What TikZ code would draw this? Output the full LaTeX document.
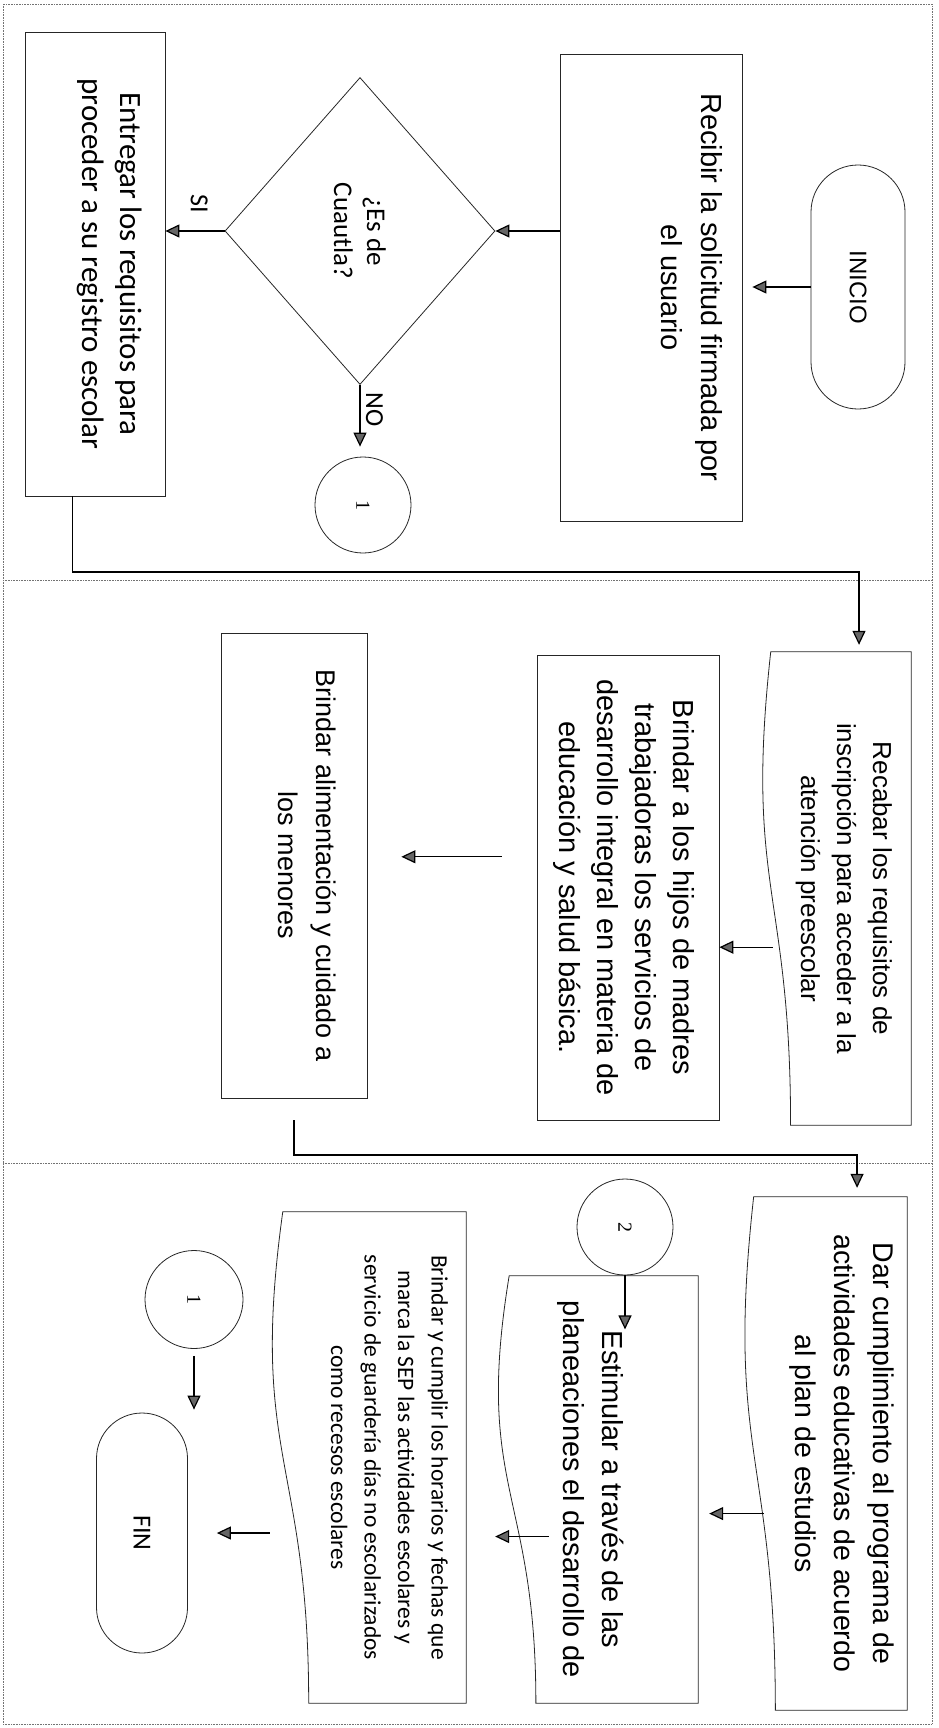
\documentclass[tikz,border=0pt]{standalone}
\usepackage{fontspec}
\setmainfont{Liberation Sans}
\newfontfamily\calibri{Carlito}
\newfontfamily\serifnum{Liberation Serif}
\usetikzlibrary{shapes.geometric,arrows.meta,calc}

\newcommand{\flowtext}[4]{\parbox[c][#2][t]{#1}{\centering\vspace*{#3}#4\par}}
\newcommand{\docoutline}[1]{%
  \draw[outline] (#1.north west) -- (#1.north east)
    -- ($(#1.north east)!0.802!(#1.south east)$)
    .. controls ($(#1.north)!0.802!(#1.south)$) and ($(#1.north)!1.107!(#1.south)$)
    .. ($(#1.north west)!0.934!(#1.south west)$) -- cycle;}

\tikzset{
  outline/.style={draw=black!85, line width=0.8pt},
  flowbox/.style={outline, rectangle, inner sep=0pt, rotate=-90},
  docbox/.style={rectangle, inner sep=0pt, rotate=-90},
  stadium/.style={outline, rectangle, inner sep=0pt, rotate=-90, align=center},
  decision/.style={outline, diamond, inner sep=0pt, rotate=-90, align=center},
  linkcircle/.style={outline, circle, inner sep=0pt, minimum size=96pt, rotate=-90, font=\serifnum\fontsize{20}{24}\selectfont},
  arr/.style={draw=black, line width=1.2pt, -{Triangle[length=14pt,width=13pt,fill=black!60]}},
  lane/.style={draw=black!55, line width=0.6pt, densely dotted},
  lbl/.style={rotate=-90, font=\calibri\fontsize{26}{30}\selectfont}
}

\begin{document}
\begin{tikzpicture}[x=1pt,y=1pt]
  \useasboundingbox (0,0) rectangle (938,-1728);
  \draw[lane] (3,-4) rectangle (932,-1724);
  \draw[lane] (3,-580) -- (932,-580);
  \draw[lane] (3,-1163) -- (932,-1163);

  % primera columna
  \node[stadium, rounded corners=47pt, minimum width=244pt, minimum height=94pt, font=\fontsize{24}{28}\selectfont] (inicio) at (858,-287) {INICIO};
  \node[flowbox, font=\fontsize{29}{40}\selectfont] (recibir) at (651,-287.5) {\flowtext{467pt}{182pt}{19pt}{Recibir la solicitud firmada por\\el usuario}};
  \node[decision, minimum width=307pt, minimum height=270pt, font=\calibri\fontsize{27}{33}\selectfont] (cuautla) at (360,-231) {¿Es de\\Cuautla?};
  \node[flowbox, font=\calibri\fontsize{31}{38}\selectfont] (entregar) at (95,-264) {\flowtext{464pt}{140pt}{23pt}{Entregar los requisitos para\\proceder a su registro escolar}};
  \node[linkcircle] (con1) at (363,-505) {1};

  % segunda columna
  \node[docbox, font=\fontsize{26}{36}\selectfont] (recabar) at (836,-888.5) {\flowtext{473pt}{150pt}{19pt}{Recabar los requisitos de\\inscripción para acceder a la\\atención preescolar}};
  \docoutline{recabar}
  \node[flowbox, font=\fontsize{29}{38}\selectfont] (hijos) at (628,-887.5) {\flowtext{465pt}{182pt}{24pt}{Brindar a los hijos de madres\\trabajadoras los servicios de\\desarrollo integral en materia de\\educación y salud básica.}};
  \node[flowbox, font=\fontsize{27}{38}\selectfont] (alim) at (294,-865.5) {\flowtext{465pt}{146pt}{31pt}{Brindar alimentación y cuidado a\\los menores}};

  % tercera columna
  \node[linkcircle] (con2) at (625,-1227) {2};
  \node[docbox, font=\fontsize{28.5}{39}\selectfont] (dar) at (825,-1453.5) {\flowtext{513pt}{164pt}{13pt}{Dar cumplimiento al programa de\\actividades educativas de acuerdo\\al plan de estudios}};
  \docoutline{dar}
  \node[docbox, font=\fontsize{29}{39}\selectfont] (estimular) at (597,-1489.5) {\flowtext{427pt}{202pt}{74pt}{Estimular a través de las\\planeaciones el desarrollo de}};
  \docoutline{estimular}
  \node[docbox, font=\calibri\fontsize{23.5}{33.5}\selectfont] (cumplir) at (368,-1457.5) {\flowtext{491pt}{196pt}{18pt}{Brindar y cumplir los horarios y fechas que\\marca la SEP las actividades escolares y\\servicio de guardería días no escolarizados\\como recesos escolares}};
  \docoutline{cumplir}
  \node[linkcircle, minimum size=98pt] (con1b) at (194,-1299.5) {1};
  \node[stadium, rounded corners=45.5pt, minimum width=240pt, minimum height=91pt, font=\calibri\fontsize{26}{30}\selectfont] (fin) at (142,-1533) {FIN};

  \coordinate (turn1) at (466,-572);
  \coordinate (turn2) at (570,-1155);
  \coordinate (entout) at ($(entregar.south east)!0.34!(entregar.north east)$);
  \coordinate (recin) at ($(recabar.north west)!0.347!(recabar.south west)$);
  \coordinate (recout) at ($(recabar.south west)!0.624!(recabar.south east)+(12,0)$);
  \coordinate (hijosout) at ($(hijos.south west)!0.434!(hijos.south east)+(-35,0)$);
  \coordinate (alimout) at ($(alim.east)+(0,-22)$);
  \coordinate (darin) at ($(dar.north west)!0.305!(dar.south west)$);
  \coordinate (darout) at ($(dar.south west)!0.617!(dar.south east)+(21,0)$);
  \coordinate (estout) at ($(estimular.south west)!0.61!(estimular.south east)+(53,0)$);

  \draw[arr, shorten >=10pt] (inicio.south) -- (inicio.south -| recibir.north);
  \draw[arr] (recibir.south |- cuautla.north) -- (cuautla.north);
  \draw[arr] (cuautla.south) -- node[yshift=14pt, lbl, pos=0.43, anchor=east] {SI} (cuautla.south -| entregar.north);
  \draw[arr, shorten >=10pt] (cuautla.east) -- node[xshift=2pt, lbl, pos=0.35, anchor=south] {NO} (cuautla.east |- con1.west);
  \draw[arr, shorten >=7pt] (entout) |- (turn1) -| (recin);
  \draw[arr] (recout) -- (recout -| hijos.north);
  \draw[arr, shorten >=34pt] (hijosout) -- (hijosout -| alim.north);
  \draw[arr, shorten >=9pt] (alimout) |- (turn2) -| (darin);
  \draw[arr] (con2.east) -- ([yshift=-54pt]con2.east);
  \draw[arr, shorten >=11pt] (darout) -- (darout -| estimular.north);
  \draw[arr, shorten >=29pt] (estout) -- (estout -| cumplir.north);
  \draw[arr, shorten >=29pt] (cumplir.south |- fin.north) -- (fin.north);
  \draw[arr, shorten <=7pt, shorten >=3pt] (con1b.east) -- (con1b.east |- fin.west);
\end{tikzpicture}
\end{document}
